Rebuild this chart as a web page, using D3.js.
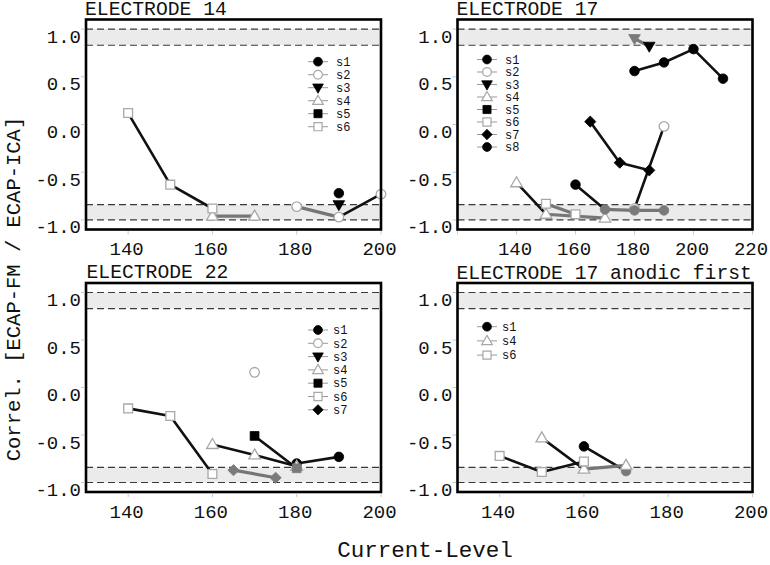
<!DOCTYPE html>
<html><head><meta charset="utf-8">
<script src="https://cdn.jsdelivr.net/npm/d3@7"></script>
<style>body{margin:0;background:#fff}</style>
</head><body>
<svg id="c" width="770" height="565"></svg>
<script>
// ---------- data ----------
const yTicks = [1.0, 0.5, 0.0, -0.5, -1.0];
const xTicks14 = [140, 160, 180, 200];
const xTicks17 = [140, 160, 180, 200, 220];
const xTicks22 = [140, 160, 180, 200];
const xTicks17a = [140, 160, 180, 200];
const titles = ["ELECTRODE 14", "ELECTRODE 17", "ELECTRODE 22", "ELECTRODE 17 anodic first"];
const bandUpper = [0.83, 1.0];
const bandLower = [-1.0, -0.84];

const e14Names = ["s1", "s2", "s3", "s4", "s5", "s6"];
const e14Data = [
  [[190, -0.72]],
  [[180, -0.86], [190, -0.97], [200, -0.73]],
  [[190, -0.84]],
  [[160, -0.96], [170, -0.96]],
  [],
  [[140, 0.12], [150, -0.63], [160, -0.88]]
];

const e17Names = ["s1", "s2", "s3", "s4", "s5", "s6", "s7", "s8"];
const e17Data = [
  [[180, 0.56], [190, 0.65], [200, 0.79], [210, 0.48]],
  [[180, -0.88], [190, -0.02]],
  [[180, 0.90], [185, 0.82]],
  [[140, -0.61], [150, -0.94], [170, -0.98]],
  [],
  [[150, -0.83], [160, -0.94]],
  [[165, 0.03], [175, -0.40], [185, -0.48]],
  [[160, -0.63], [170, -0.89], [180, -0.90], [190, -0.90]]
];

const e22Names = ["s1", "s2", "s3", "s4", "s5", "s6", "s7"];
const e22Data = [
  [[180, -0.80], [190, -0.73]],
  [[170, 0.16]],
  [],
  [[160, -0.60], [170, -0.71], [180, -0.83]],
  [[170, -0.51], [180, -0.85]],
  [[140, -0.22], [150, -0.30], [160, -0.91]],
  [[165, -0.87], [175, -0.95]]
];

const e17aNames = ["s1", "s4", "s6"];
const e17aData = [
  [[160, -0.62], [170, -0.88]],
  [[150, -0.53], [160, -0.86], [170, -0.82]],
  [[140, -0.72], [150, -0.89], [160, -0.78]]
];

// ---------- styling / layout ----------
const FONT = "'Courier New', 'Nimbus Mono PS', 'Nimbus Mono L', 'FreeMono', Courier, 'Liberation Mono', monospace";
const markerKind = {
  s1: ["circle", true], s2: ["circle", false], s3: ["tridown", true], s4: ["triup", false],
  s5: ["square", true], s6: ["square", false], s7: ["diamond", true], s8: ["circle", true]
};
function markerPath(kind, k) {
  const p = d3.path();
  if (kind === "circle") { p.arc(0, 0, 4.8 * k, 0, 2 * Math.PI); }
  else if (kind === "square") { const h = 4.4 * k; p.rect(-h, -h, 2 * h, 2 * h); }
  else if (kind === "triup") { p.moveTo(0, -6 * k); p.lineTo(5.8 * k, 4 * k); p.lineTo(-5.8 * k, 4 * k); p.closePath(); }
  else if (kind === "tridown") { p.moveTo(0, 6 * k); p.lineTo(5.8 * k, -4 * k); p.lineTo(-5.8 * k, -4 * k); p.closePath(); }
  else if (kind === "diamond") { const h = 5.6 * k; p.moveTo(0, -h); p.lineTo(h, 0); p.lineTo(0, h); p.lineTo(-h, 0); p.closePath(); }
  return p.toString();
}
const fmt = d3.formatLocale({decimal: ".", thousands: ",", grouping: [3], currency: ["", ""], minus: "-"}).format(".1f");

const panels = [
  {l: 86, r: 381, t: 19.5, b: 229.5, xd: [130, 200], xt: xTicks14, names: e14Names, data: e14Data, title: titles[0], tx: 85, ty: 15,
   leg: {mx: 318, tx: 336, y0: 61.7, dy: 13}},
  {l: 457.5, r: 752.5, t: 19.5, b: 229.5, xd: [120, 220], xt: xTicks17, names: e17Names, data: e17Data, title: titles[1], tx: 456.5, ty: 15,
   leg: {mx: 487, tx: 505, y0: 59.5, dy: 12.5}},
  {l: 86, r: 381, t: 283, b: 492, xd: [130, 200], xt: xTicks22, names: e22Names, data: e22Data, title: titles[2], tx: 86.5, ty: 277.5,
   leg: {mx: 318, tx: 333, y0: 330, dy: 13.3}},
  {l: 457.5, r: 752.5, t: 283, b: 492, xd: [130, 200], xt: xTicks17a, names: e17aNames, data: e17aData, title: titles[3], tx: 456.5, ty: 278.5,
   leg: {mx: 487, tx: 502, y0: 326.7, dy: 14.2}}
];

const svg = d3.select("#c");
svg.append("rect").attr("width", 770).attr("height", 565).attr("fill", "#fff");

const LINE_T = 0.8, MARK_T = 0.845;

panels.forEach(p => {
  const x = d3.scaleLinear().domain(p.xd).range([p.l, p.r]);
  const y = d3.scaleLinear().domain([-1.1, 1.1]).range([p.b, p.t]);
  const g = svg.append("g");

  // bands
  [bandUpper, bandLower].forEach(bd => {
    g.append("rect").attr("x", p.l).attr("width", p.r - p.l)
      .attr("y", y(bd[1])).attr("height", y(bd[0]) - y(bd[1])).attr("fill", "#ebebeb");
  });
  [bandUpper[1], bandUpper[0], bandLower[1], bandLower[0]].forEach(v => {
    g.append("line").attr("x1", p.l).attr("x2", p.r).attr("y1", y(v)).attr("y2", y(v))
      .attr("stroke", "#3a3a3a").attr("stroke-width", 1.2).attr("stroke-dasharray", "7,4");
  });

  // lines
  p.data.forEach(ser => {
    for (let i = 0; i < ser.length - 1; i++) {
      const a = ser[i], b = ser[i + 1];
      const gray = Math.abs(a[1]) >= LINE_T && Math.abs(b[1]) >= LINE_T;
      g.append("line").attr("x1", x(a[0])).attr("y1", y(a[1])).attr("x2", x(b[0])).attr("y2", y(b[1]))
        .attr("stroke", gray ? "#767676" : "#111").attr("stroke-width", gray ? 3.2 : 2.6)
        .attr("stroke-linecap", "round");
    }
  });
  // markers
  p.data.forEach((ser, si) => {
    const [kind, filled] = markerKind[p.names[si]];
    ser.forEach(d => {
      const inBand = Math.abs(d[1]) >= MARK_T;
      g.append("path").attr("d", markerPath(kind, 1))
        .attr("transform", `translate(${x(d[0])},${y(d[1])})`)
        .attr("fill", filled ? (inBand ? "#7a7a7a" : "#000") : "#fff")
        .attr("stroke", filled ? (inBand ? "#7a7a7a" : "#000") : "#a8a8a8")
        .attr("stroke-width", filled ? 0.8 : 1.3);
    });
  });

  // frame
  g.append("rect").attr("x", p.l).attr("y", p.t).attr("width", p.r - p.l).attr("height", p.b - p.t)
    .attr("fill", "none").attr("stroke", "#000").attr("stroke-width", 2.6);

  // ticks
  x.ticks(10).filter(v => v >= p.xd[0] && v <= p.xd[1] && v % 20 === 0).forEach(v => {
    g.append("line").attr("x1", x(v)).attr("x2", x(v)).attr("y1", p.b + 1.5).attr("y2", p.b + 5)
      .attr("stroke", "#c8c8c8").attr("stroke-width", 1);
  });
  yTicks.forEach(v => {
    g.append("line").attr("x1", p.l - 5).attr("x2", p.l - 1.5).attr("y1", y(v)).attr("y2", y(v))
      .attr("stroke", "#c8c8c8").attr("stroke-width", 1);
    g.append("text").attr("x", p.l - 5).attr("y", y(v) + 13.5).attr("text-anchor", "end")
      .attr("font-family", FONT).attr("font-size", 19).attr("fill", "#111").text(fmt(v));
  });
  p.xt.forEach(v => {
    g.append("text").attr("x", x(v) - 1.5).attr("y", p.b + 25.5).attr("text-anchor", "middle")
      .attr("font-family", FONT).attr("font-size", 19).attr("fill", "#111").text(v);
  });

  // title
  g.append("text").attr("x", p.tx).attr("y", p.ty).attr("font-family", FONT).attr("font-size", 19.7)
    .attr("fill", "#111").text(p.title);

  // legend
  p.names.forEach((n, i) => {
    const ly = p.leg.y0 + i * p.leg.dy;
    const [kind, filled] = markerKind[n];
    g.append("line").attr("x1", p.leg.mx - 10).attr("x2", p.leg.mx + 10).attr("y1", ly).attr("y2", ly)
      .attr("stroke", "#999").attr("stroke-width", 1);
    g.append("path").attr("d", markerPath(kind, 0.92)).attr("transform", `translate(${p.leg.mx},${ly})`)
      .attr("fill", filled ? "#000" : "#fff").attr("stroke", filled ? "#000" : "#a8a8a8")
      .attr("stroke-width", filled ? 0.8 : 1.2);
    g.append("text").attr("x", p.leg.tx).attr("y", ly + 4.2).attr("font-family", FONT).attr("font-size", 12)
      .attr("fill", "#111").text(n);
  });
});

// axis labels
svg.append("text").attr("x", 425).attr("y", 557).attr("text-anchor", "middle")
  .attr("font-family", FONT).attr("font-size", 22.5).attr("fill", "#111").text("Current-Level");
svg.append("text").attr("transform", "translate(14,289) rotate(-90)").attr("text-anchor", "middle")
  .attr("dominant-baseline", "central")
  .attr("font-family", FONT).attr("font-size", 20.5).attr("fill", "#111").text("Correl. [ECAP-FM / ECAP-ICA]");
</script>
</body></html>
